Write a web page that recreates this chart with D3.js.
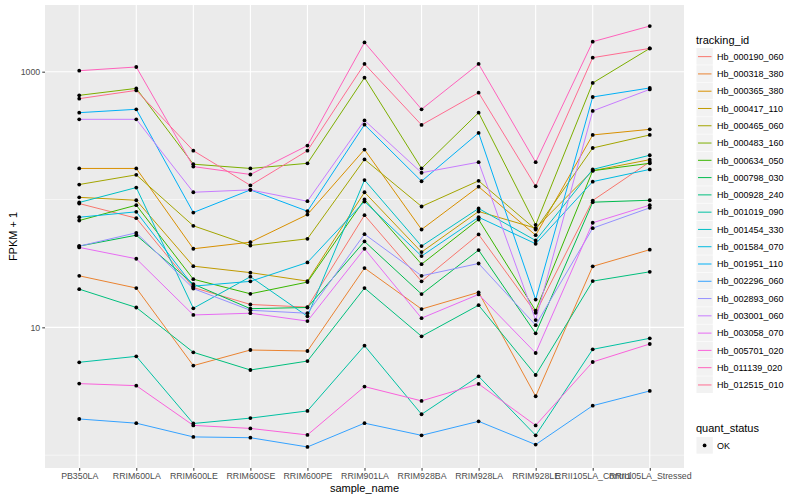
<!DOCTYPE html>
<html>
<head>
<meta charset="utf-8">
<script src="https://cdn.jsdelivr.net/npm/d3@7"></script>
<style>
  body { margin: 0; background: #fff; }
  svg text { font-family: "Liberation Sans", Arial, sans-serif; }
</style>
</head>
<body>
<svg id="chart" width="800" height="500"></svg>
<script>
// ---- data (FPKM + 1) ----
const samples = ['PB350LA', 'RRIM600LA', 'RRIM600LE', 'RRIM600SE', 'RRIM600PE', 'RRIM901LA',
  'RRIM928BA', 'RRIM928LA', 'RRIM928LE', 'RRII105LA_Control', 'RRII105LA_Stressed'];

const trackingIds = ['Hb_000190_060', 'Hb_000318_380', 'Hb_000365_380', 'Hb_000417_110', 'Hb_000465_060',
  'Hb_000483_160', 'Hb_000634_050', 'Hb_000798_030', 'Hb_000928_240', 'Hb_001019_090',
  'Hb_001454_330', 'Hb_001584_070', 'Hb_001951_110', 'Hb_002296_060', 'Hb_002893_060',
  'Hb_003001_060', 'Hb_003058_070', 'Hb_005701_020', 'Hb_011139_020', 'Hb_012515_010'];

const hb000190 = [93.0, 71.4, 20.5, 15.1, 14.4, 75.4, 22.9, 53.3, 13.0, 98.2, 197];
const hb000318 = [25.3, 20.3, 5.02, 6.65, 6.53, 29.1, 13.9, 18.8, 2.89, 30.0, 40.5];
const hb000365 = [175, 175, 41.2, 46.4, 76.3, 246, 58.3, 126, 52.6, 320, 354];
const hb000417 = [104, 98.7, 30.1, 26.8, 23.0, 114, 38.8, 80.6, 59.7, 168, 205];
const hb000465 = [131, 156, 62.3, 43.7, 49.3, 206, 88.2, 140, 58.3, 253, 320];
const hb000483 = [653, 740, 189, 175, 192, 898, 175, 478, 63.4, 816, 1521];
const hb000634 = [68.5, 90.3, 23.8, 18.3, 22.6, 100, 31.2, 69.8, 13.5, 168, 192];
const hb000798 = [43.2, 52.6, 21.8, 14.0, 14.3, 47.0, 18.2, 40.2, 8.98, 95.3, 98.7];
const hb000928 = [19.9, 14.3, 6.38, 4.64, 5.45, 20.3, 8.51, 14.9, 4.24, 23.0, 27.2];
const hb001019 = [5.33, 5.93, 1.77, 1.95, 2.22, 7.19, 2.09, 4.14, 1.43, 6.73, 8.21];
const hb001454 = [94.8, 124, 14.1, 24.9, 12.2, 142, 43.2, 85.1, 47.8, 172, 222];
const hb001584 = [72.7, 80.1, 21.0, 22.9, 32.2, 96.5, 36.1, 72.7, 45.1, 138, 172];
const hb001951 = [478, 508, 79.1, 119, 81.0, 385, 139, 332, 16.5, 634, 746];
const hb002296 = [1.92, 1.78, 1.39, 1.37, 1.16, 1.78, 1.43, 1.84, 1.21, 2.44, 3.18];
const hb002893 = [43.2, 54.9, 20.1, 13.6, 12.9, 53.6, 25.3, 31.6, 10.4, 59.7, 86.1];
const hb003001 = [424, 424, 114, 119, 97.0, 416, 162, 196, 11.4, 493, 727];
const hb003058 = [42.2, 34.4, 12.5, 12.9, 11.2, 41.2, 11.8, 18.1, 6.30, 65.8, 90.3];
const hb005701 = [3.63, 3.50, 1.71, 1.62, 1.44, 3.44, 2.66, 3.61, 1.71, 5.36, 7.41];
const hb011139 = [1018, 1088, 181, 157, 264, 1694, 508, 1149, 196, 1716, 2275];
const hb012515 = [615, 714, 241, 129, 241, 1149, 383, 685, 127, 1287, 1521];

const seriesValues = [hb000190, hb000318, hb000365, hb000417, hb000465, hb000483, hb000634,
  hb000798, hb000928, hb001019, hb001454, hb001584, hb001951, hb002296, hb002893,
  hb003001, hb003058, hb005701, hb011139, hb012515];

const yBreaks = [10, 1000];
const yMinor = [1, 100, 10000];

// ggplot default hue palette, 20 levels
const palette = ['#F8766D', '#EA8331', '#D89000', '#C09B00', '#A3A500', '#7CAE00', '#39B600',
  '#00BB4E', '#00BF7D', '#00C1A3', '#00BFC4', '#00BAE0', '#00B0F6', '#35A2FF', '#9590FF',
  '#C77CFF', '#E76BF3', '#FA62DB', '#FF62BC', '#FF6C91'];

// ---- layout ----
const panel = { left: 45, right: 684, top: 5, bottom: 468 };
const svg = d3.select('#chart');

const x = d3.scalePoint().domain(samples).range([panel.left, panel.right]).padding(0.6);

// log scale with ggplot-like 5% expansion
const all = seriesValues.flat();
const lmin = Math.log10(d3.min(all)), lmax = Math.log10(d3.max(all));
const pad = (lmax - lmin) * 0.05;
const y = d3.scaleLog()
  .domain([Math.pow(10, lmin - pad), Math.pow(10, lmax + pad)])
  .range([panel.bottom, panel.top]);

// panel background + grid
svg.append('rect')
  .attr('x', panel.left).attr('y', panel.top)
  .attr('width', panel.right - panel.left).attr('height', panel.bottom - panel.top)
  .attr('fill', '#EBEBEB');

const grid = svg.append('g');
yMinor.filter(v => y(v) >= panel.top && y(v) <= panel.bottom).forEach(v => {
  grid.append('line')
    .attr('x1', panel.left).attr('x2', panel.right)
    .attr('y1', y(v)).attr('y2', y(v))
    .attr('stroke', '#fff').attr('stroke-width', 0.55);
});
yBreaks.forEach(v => {
  grid.append('line')
    .attr('x1', panel.left).attr('x2', panel.right)
    .attr('y1', y(v)).attr('y2', y(v))
    .attr('stroke', '#fff').attr('stroke-width', 1.1);
});
samples.forEach(s => {
  grid.append('line')
    .attr('x1', x(s)).attr('x2', x(s))
    .attr('y1', panel.top).attr('y2', panel.bottom)
    .attr('stroke', '#fff').attr('stroke-width', 1.1);
});

// lines
const line = d3.line().x((d, i) => x(samples[i])).y(d => y(d));
const linesG = svg.append('g');
seriesValues.forEach((vals, k) => {
  linesG.append('path')
    .attr('d', line(vals))
    .attr('fill', 'none')
    .attr('stroke', palette[k])
    .attr('stroke-width', 1);
});

// points
const ptsG = svg.append('g');
seriesValues.forEach(vals => {
  vals.forEach((v, i) => {
    ptsG.append('circle')
      .attr('cx', x(samples[i])).attr('cy', y(v)).attr('r', 1.9)
      .attr('fill', '#000');
  });
});

// axes
const xAxis = svg.append('g')
  .attr('transform', `translate(0,${panel.bottom})`)
  .call(d3.axisBottom(x).tickSize(2.75).tickPadding(2));
const yAxis = svg.append('g')
  .attr('transform', `translate(${panel.left},0)`)
  .call(d3.axisLeft(y).tickValues(yBreaks).tickFormat(d3.format('d')).tickSize(2.75).tickPadding(2));
[xAxis, yAxis].forEach(a => {
  a.select('.domain').remove();
  a.selectAll('.tick line').attr('stroke', '#333333');
  a.selectAll('.tick text').attr('fill', '#4D4D4D').attr('font-size', 8.8)
    .style('font-family', '"Liberation Sans", Arial, sans-serif');
});

svg.append('text')
  .attr('x', (panel.left + panel.right) / 2).attr('y', 492)
  .attr('text-anchor', 'middle').attr('font-size', 11).attr('fill', '#000')
  .text('sample_name');
svg.append('text')
  .attr('transform', `translate(17,${(panel.top + panel.bottom) / 2}) rotate(-90)`)
  .attr('text-anchor', 'middle').attr('font-size', 11).attr('fill', '#000')
  .text('FPKM + 1');

// legend: tracking_id
const lg = svg.append('g').attr('transform', 'translate(696,0)');
lg.append('text').attr('x', 0).attr('y', 44).attr('font-size', 11).text('tracking_id');
const keyH = 17.28, key0 = 48;
trackingIds.forEach((id, k) => {
  const yy = key0 + k * keyH;
  lg.append('rect').attr('x', 0.5).attr('y', yy).attr('width', 16.3).attr('height', keyH - 0.6)
    .attr('fill', '#F2F2F2');
  lg.append('line').attr('x1', 2).attr('x2', 15.5)
    .attr('y1', yy + keyH / 2).attr('y2', yy + keyH / 2)
    .attr('stroke', palette[k]).attr('stroke-width', 1);
  lg.append('text').attr('x', 21).attr('y', yy + keyH / 2 + 3.2)
    .attr('font-size', 9).text(id);
});

// legend: quant_status
lg.append('text').attr('x', 0).attr('y', 432).attr('font-size', 11).text('quant_status');
lg.append('rect').attr('x', 0.5).attr('y', 437).attr('width', 16.3).attr('height', 16.7)
  .attr('fill', '#F2F2F2');
lg.append('circle').attr('cx', 8.6).attr('cy', 445.4).attr('r', 1.9).attr('fill', '#000');
lg.append('text').attr('x', 21).attr('y', 448.6).attr('font-size', 9).text('OK');
</script>
</body>
</html>
